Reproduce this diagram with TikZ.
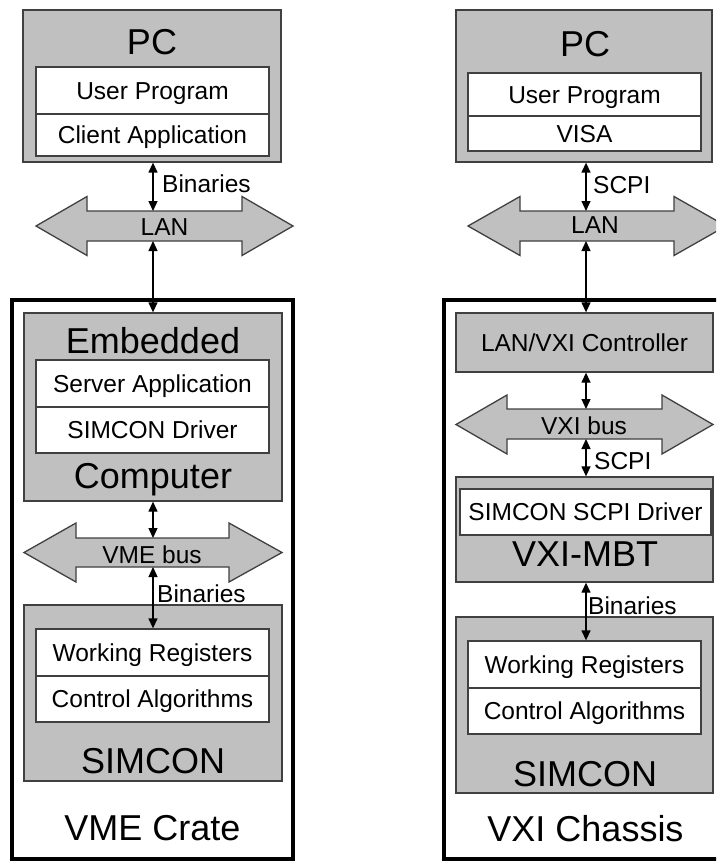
\documentclass[tikz,border=0pt]{standalone}
\usepackage{fontspec}
\setmainfont{Liberation Sans}
\usetikzlibrary{arrows.meta}
\definecolor{boxgray}{HTML}{C0C0C0}
\definecolor{boxline}{HTML}{404040}
\tikzset{
  small/.style={font=\fontsize{24.5}{28}\selectfont, text height=17.5pt, text depth=0pt, inner sep=0pt},
  big/.style={font=\fontsize{36}{40}\selectfont, text height=25.8pt, text depth=0pt, inner sep=0pt},
  graybox/.style={draw=boxline, fill=boxgray, line width=1.3pt, inner sep=0pt},
  whitebox/.style={small, draw=boxline, fill=white, line width=1.3pt},
  crate/.style={draw=black, line width=3.5pt},
  bus/.style={draw=boxline, fill=boxgray, line width=1.3pt},
  link/.style={{Triangle[length=10pt,width=9pt]}-{Triangle[length=10pt,width=9pt]}, line width=1.3pt},
}
\begin{document}
\begin{tikzpicture}[x=1pt,y=-1pt]
        \clip (0,0) rectangle (716,861);

        % VME side
        \node[crate, minimum width=281pt, minimum height=559pt, inner sep=0pt] (crateL) at (152.5,579.5) {};
        \node[graybox, minimum width=258pt, minimum height=152pt] (pcL) at (152,86) {};
        \node[big] (pcLtxt) at (152,41.3) {PC};
        \node[whitebox, minimum width=233pt, minimum height=47pt] (userL) at (152.5,90.5) {User Program};
        \node[whitebox, minimum width=233pt, minimum height=42pt] (clientL) at (152.5,135) {Client Application};

        \draw[bus] (36,226) -- (87,196.5) -- (87,211) -- (242,211) -- (242,196.5) -- (293,226)
                -- (242,255.5) -- (242,241) -- (87,241) -- (87,255.5) -- cycle;
        \node[small] (lanL) at (164.5,226.5) {LAN};
        \coordinate (lanLtop) at (153,211);
        \coordinate (lanLbot) at (153,241);

        \node[graybox, minimum width=258pt, minimum height=188pt] (embL) at (153,407) {};
        \node[big] (embLtxt) at (153,341) {Embedded};
        \node[whitebox, minimum width=233pt, minimum height=47pt] (serverL) at (152.5,383.5) {Server Application};
        \node[whitebox, minimum width=233pt, minimum height=46pt] (driverL) at (152.5,430) {SIMCON Driver};
        \node[big] (compLtxt) at (153,476) {Computer};

        \draw[bus] (24,552.5) -- (76,523) -- (76,538) -- (229,538) -- (229,523) -- (282,552.5)
                -- (229,582) -- (229,567) -- (76,567) -- (76,582) -- cycle;
        \node[small] (vmeL) at (152,554.5) {VME bus};
        \coordinate (vmeLtop) at (153,538);
        \coordinate (vmeLbot) at (153,567);

        \node[graybox, minimum width=258pt, minimum height=176pt] (simconL) at (153,693) {};
        \node[whitebox, minimum width=233pt, minimum height=47pt] (workL) at (152.5,652.5) {Working Registers};
        \node[whitebox, minimum width=233pt, minimum height=46pt] (ctrlL) at (152.5,699) {Control Algorithms};
        \node[big] (simconLtxt) at (153,760.5) {SIMCON};
        \node[big] (crateLtxt) at (152.5,827.5) {VME Crate};

        \draw[link] (pcL.south -| lanLtop) -- (lanLtop);
        \node[small, anchor=west] (binL1) at (162,184) {Binaries};
        \draw[link] (lanLbot) -- (embL.north -| lanLbot);
        \draw[link] (embL.south -| vmeLtop) -- (vmeLtop);
        \draw[link] (vmeLbot) -- (workL.north -| vmeLbot);
        \node[small, anchor=west] (binL2) at (157,593.5) {Binaries};

        % VXI side
        \draw[crate] (730,300) -- (444,300) -- (444,859) -- (730,859);
        \node[graybox, minimum width=256pt, minimum height=152pt] (pcR) at (584,86) {};
        \node[big] (pcRtxt) at (585,44) {PC};
        \node[whitebox, minimum width=233pt, minimum height=43pt] (userR) at (584.5,94.5) {User Program};
        \node[whitebox, minimum width=233pt, minimum height=35pt] (visaR) at (584.5,133.5) {VISA};

        \draw[bus] (468,226) -- (520,196.5) -- (520,211) -- (674,211) -- (674,196.5) -- (726,226)
                -- (674,255.5) -- (674,241) -- (520,241) -- (520,255.5) -- cycle;
        \node[small] (lanR) at (595,225) {LAN};
        \coordinate (lanRtop) at (586,211);
        \coordinate (lanRbot) at (586,241);

        \node[graybox, small, minimum width=257pt, minimum height=59pt] (ctlR) at (584.5,342.5) {LAN/VXI Controller};

        \draw[bus] (456,424.5) -- (507,395) -- (507,409) -- (662,409) -- (662,395) -- (713,424.5)
                -- (662,454) -- (662,439) -- (507,439) -- (507,454) -- cycle;
        \node[small] (vxiR) at (584,425.5) {VXI bus};
        \coordinate (vxiRtop) at (586,409);
        \coordinate (vxiRbot) at (586,439);

        \node[graybox, minimum width=257pt, minimum height=105pt] (mbtR) at (584.5,529.5) {};
        \node[whitebox, minimum width=251pt, minimum height=46pt] (scpidrvR) at (585.5,512) {SIMCON SCPI Driver};
        \node[big] (mbtRtxt) at (585,553.5) {VXI-MBT};

        \node[graybox, minimum width=257pt, minimum height=176pt] (simconR) at (584.5,705) {};
        \node[whitebox, minimum width=233pt, minimum height=47pt] (workR) at (584.5,664.5) {Working Registers};
        \node[whitebox, minimum width=233pt, minimum height=46pt] (ctrlR) at (584.5,711) {Control Algorithms};
        \node[big] (simconRtxt) at (585,773.5) {SIMCON};
        \node[big] (crateRtxt) at (585.5,829) {VXI Chassis};

        \draw[link] (pcR.south -| lanRtop) -- (lanRtop);
        \node[small, anchor=west] (scpiR1) at (593,185) {SCPI};
        \draw[link] (lanRbot) -- (ctlR.north -| lanRbot);
        \draw[link] (ctlR.south -| vxiRtop) -- (vxiRtop);
        \draw[link] (vxiRbot) -- (mbtR.north -| vxiRbot);
        \node[small, anchor=west] (scpiR2) at (594,460.5) {SCPI};
        \draw[link] (mbtR.south -| vxiRbot) -- (workR.north -| vxiRbot);
        \node[small, anchor=west] (binR) at (588,605.5) {Binaries};
\end{tikzpicture}
\end{document}
